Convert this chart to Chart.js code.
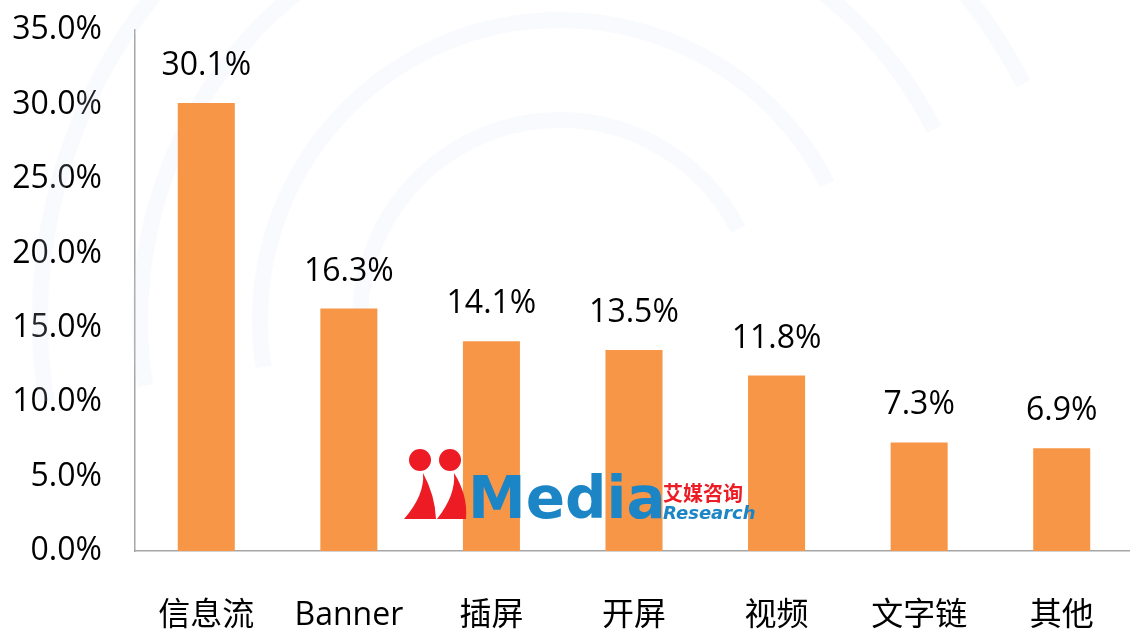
<!DOCTYPE html>
<html>
<head>
<meta charset="utf-8">
<script src="https://cdn.jsdelivr.net/npm/chart.js@4"></script>
<style>
  html, body { margin: 0; padding: 0; background: #ffffff; overflow: hidden; }
  #wrap { position: absolute; left: 0; top: -22px; width: 1140px; height: 653px; }
</style>
</head>
<body>
<div id="wrap"><canvas id="adTypeChart" width="1140" height="653"></canvas></div>
<script>
// ad format share
const categories = ['信息流', 'Banner', '插屏', '开屏', '视频', '文字链', '其他'];
const shares = [30.1, 16.3, 14.1, 13.5, 11.8, 7.3, 6.9];
const yTicks = [0, 5, 10, 15, 20, 25, 30, 35];

const FONT = "'Open Sans', 'Noto Sans CJK SC', sans-serif";

// faint watermark + logo behind the bars
const backdrop = {
    id: 'backdrop',
    beforeDatasetsDraw(chart) {
        const c = chart.ctx;
        c.save();
        c.strokeStyle = 'rgba(215, 225, 242, 0.16)';
        c.lineWidth = 16;
        [200, 300, 420, 520].forEach(r => {
            c.beginPath();
            c.arc(560, 342, r, Math.PI * 0.95, Math.PI * 1.85);
            c.stroke();
        });
        c.restore();
    },
    afterDatasetsDraw(chart) {
        const c = chart.ctx;
        c.save();
        c.translate(0, 22);
        c.textBaseline = 'alphabetic';
        c.fillStyle = '#ED1C24';
        c.beginPath(); c.arc(420, 460, 11, 0, Math.PI * 2); c.fill();
        c.beginPath(); c.arc(450, 460, 11, 0, Math.PI * 2); c.fill();
        c.beginPath();
        c.moveTo(404, 519); c.quadraticCurveTo(425, 495, 423, 473); c.quadraticCurveTo(435, 495, 436, 519); c.closePath(); c.fill();
        c.beginPath();
        c.moveTo(437, 519); c.quadraticCurveTo(456, 495, 454, 473); c.quadraticCurveTo(468, 495, 466, 519); c.closePath(); c.fill();
        c.fillStyle = '#1B85C6';
        c.font = "bold 58px 'DejaVu Sans', sans-serif";
        c.fillText('Media', 468, 518);
        c.fillStyle = '#ED1C24';
        c.font = "bold 20px 'Noto Sans CJK SC', sans-serif";
        c.fillText('艾媒咨询', 663, 501);
        c.fillStyle = '#1B85C6';
        c.font = "italic bold 18px 'DejaVu Sans', sans-serif";
        c.fillText('Research', 663, 519);
        c.restore();
    }
};

// value labels above each bar
const valueLabels = {
    id: 'valueLabels',
    afterDatasetsDraw(chart) {
        const c = chart.ctx;
        const meta = chart.getDatasetMeta(0);
        c.save();
        c.font = '32px ' + FONT;
        c.fillStyle = '#000000';
        c.textAlign = 'center';
        c.textBaseline = 'middle';
        meta.data.forEach((bar, i) => {
            c.fillText(shares[i].toFixed(1) + '%', bar.x, bar.y - 37);
        });
        c.restore();
    }
};

new Chart(document.getElementById('adTypeChart'), {
    type: 'bar',
    data: {
        labels: categories,
        datasets: [{
            data: shares,
            backgroundColor: '#F79646',
            borderWidth: 0,
            categoryPercentage: 1,
            barPercentage: 0.4
        }]
    },
    options: {
        responsive: false,
        animation: false,
        layout: { padding: { top: 0, right: 4, left: 0, bottom: 0 } },
        plugins: {
            legend: { display: false },
            tooltip: { enabled: false }
        },
        scales: {
            x: {
                grid: { display: false, drawTicks: false },
                border: { display: true, color: '#A6A6A6', width: 1.5 },
                ticks: {
                    color: '#000000',
                    padding: 46,
                    font: { family: FONT, size: 32 }
                },
                afterFit(scale) { scale.height = 80; }
            },
            y: {
                min: 0,
                max: 35,
                afterBuildTicks(scale) { scale.ticks = yTicks.map(v => ({ value: v })); },
                grid: { display: false, drawTicks: false },
                border: { display: true, color: '#A6A6A6', width: 1.5 },
                ticks: {
                    color: '#000000',
                    padding: 33,
                    font: { family: FONT, size: 32 },
                    callback: v => v.toFixed(1) + '%'
                },
                afterFit(scale) { scale.width = 135; }
            }
        }
    },
    plugins: [backdrop, valueLabels]
});
</script>
</body>
</html>
